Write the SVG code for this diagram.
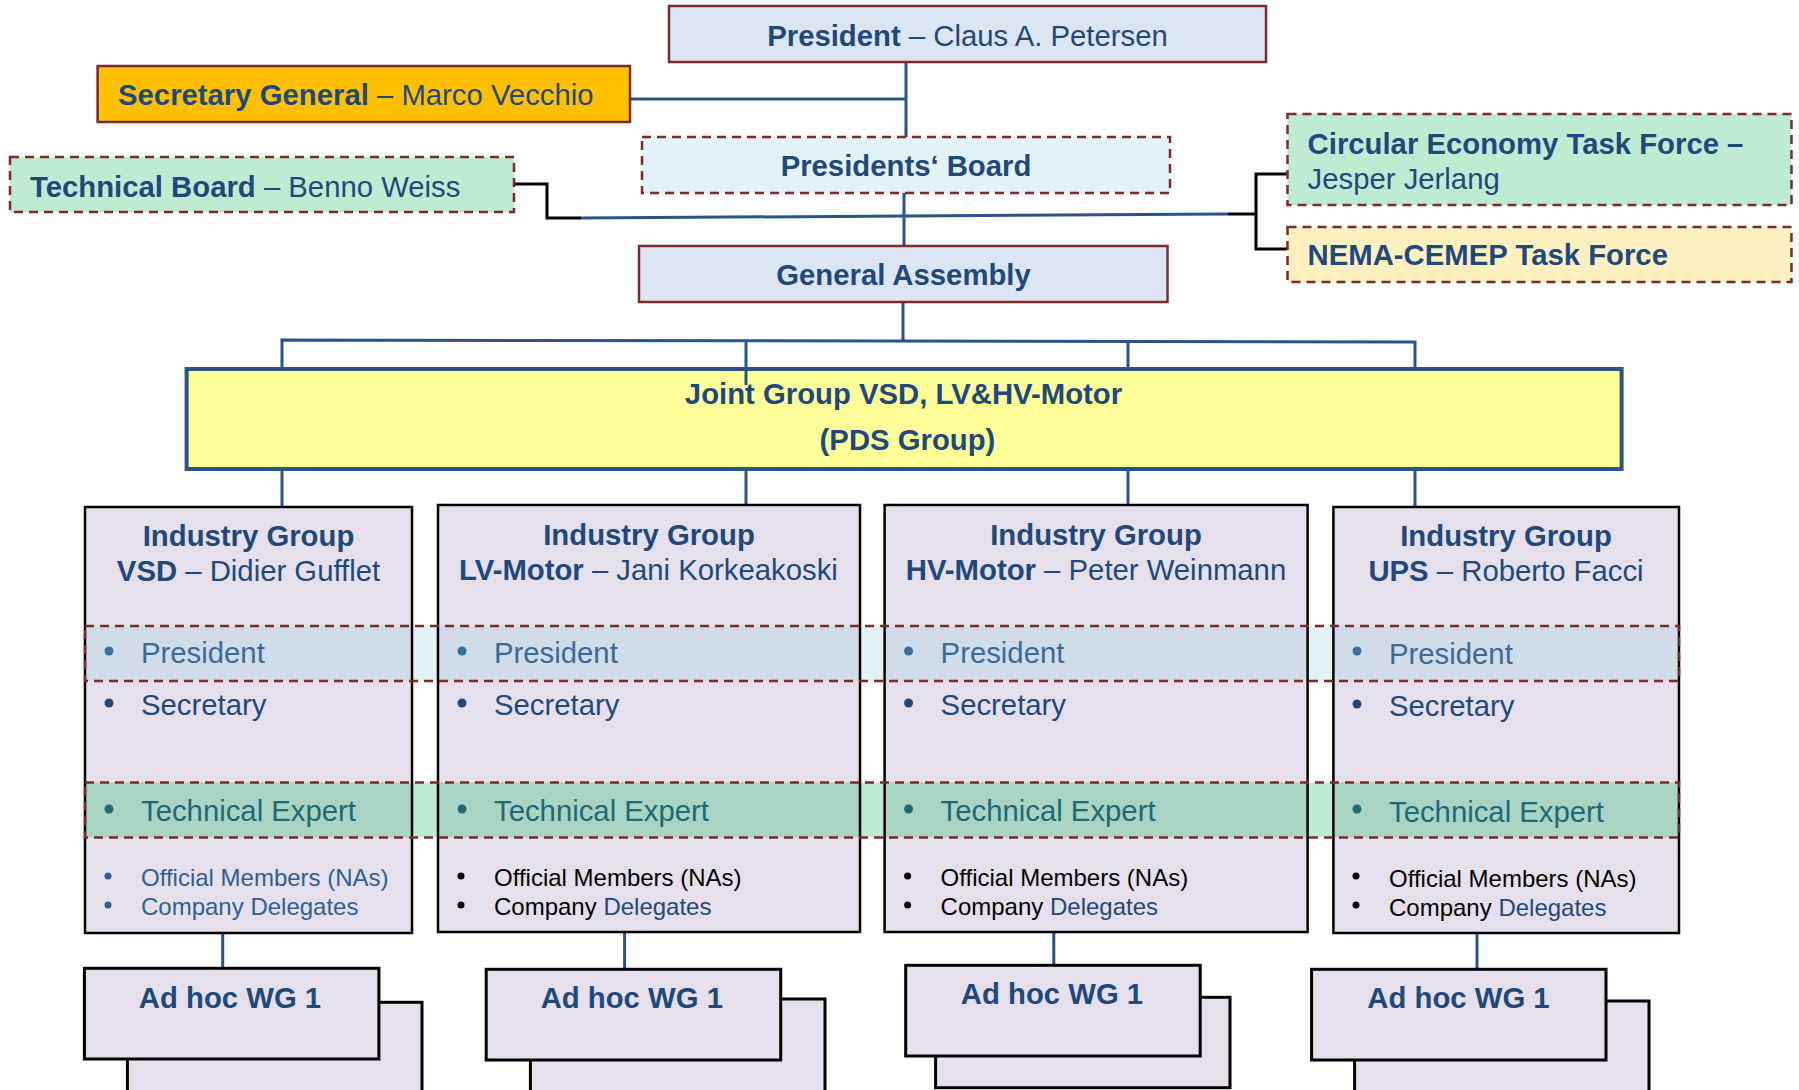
<svg xmlns="http://www.w3.org/2000/svg" width="1799" height="1090" viewBox="0 0 1799 1090">
<style>
text{font-family:"Liberation Sans",Arial,sans-serif;font-size:29.3px;fill:#1F497D;transform:translate(0px,1.5px)}
.b{font-weight:bold}
.c{text-anchor:middle}
.solid{stroke:#7B2B2B;stroke-width:2.5}
.dash{stroke:#7B2B2B;stroke-width:2.5;stroke-dasharray:9 6}
.ig{fill:#E5E0EC}
.igs{fill:none;stroke:#000;stroke-width:2.5}
.wg{fill:#E5E0EC;stroke:#000;stroke-width:3}
.cb{fill:none;stroke:#2C5288;stroke-width:3}
.ck{fill:none;stroke:#000;stroke-width:3}
.pr{fill:#3C6A98}
.te{fill:#1C6A73}
.sm{font-size:24px}
.k{fill:#000}
</style>
<rect width="1799" height="1090" fill="#fff"/>

<g id="connectors">
<path class="cb" d="M630,99 H906 M906,62 V137 M904,193 V246"/>
<path class="ck" d="M514,184 H547 V218 H581"/>
<path class="cb" d="M581,218 L1228,214"/>
<path class="ck" d="M1228,214 H1256 M1287,174 H1256 V249 H1287"/>
<path class="cb" d="M903,302 V340 M282,369 V340 L1415,342 V369 M746,340 V385 M1128,341 V369"/>
<path class="cb" d="M282,469 V508 M746,469 V505 M1128,469 V505 M1415,469 V508"/>
<path class="cb" d="M222.7,933 V968 M624.6,932 V969 M1053.8,932 V965 M1477,933 V969"/>
</g>

<g id="president">
<rect x="669" y="6" width="597" height="56" fill="#DCE6F2" class="solid"/>
<text x="967.5" y="44" class="c"><tspan class="b">President</tspan> – Claus A. Petersen</text>
</g>

<g id="secretary-general">
<rect x="97.6" y="66" width="532.4" height="56" fill="#FFC000" class="solid"/>
<text x="118" y="103"><tspan class="b">Secretary General</tspan> – Marco Vecchio</text>
</g>

<g id="technical-board">
<rect x="10" y="157" width="504" height="55" fill="#BFEBD3" class="dash"/>
<text x="30" y="195"><tspan class="b">Technical Board</tspan> – Benno Weiss</text>
</g>

<g id="presidents-board">
<rect x="642" y="137" width="528" height="56" fill="#E3F2F7" class="dash"/>
<text x="906" y="174" class="b c">Presidents‘ Board</text>
</g>

<g id="circular-economy">
<rect x="1287.5" y="114" width="504" height="91" fill="#BFEBD3" class="dash"/>
<text x="1307.6" y="152" class="b">Circular Economy Task Force –</text>
<text x="1307.6" y="187">Jesper Jerlang</text>
</g>

<g id="nema-cemep">
<rect x="1287.5" y="227" width="504" height="55" fill="#FFF0C1" class="dash"/>
<text x="1307.6" y="263" class="b">NEMA-CEMEP Task Force</text>
</g>

<g id="general-assembly">
<rect x="639" y="246" width="528.5" height="56" fill="#DCE6F2" class="solid"/>
<text x="903.5" y="283" class="b c">General Assembly</text>
</g>

<g id="joint-group">
<rect x="186.6" y="369" width="1435" height="100" fill="#FFFF99" stroke="#2C5288" stroke-width="4"/>
<path class="cb" d="M746,369 V385"/>
<text x="903.5" y="402" class="b c">Joint Group VSD, LV&amp;HV-Motor</text>
<text x="907.5" y="448" class="b c">(PDS Group)</text>
</g>

<g id="industry-fills">
<rect x="85" y="507" width="327" height="426" class="ig"/>
<rect x="438" y="505" width="422" height="427" class="ig"/>
<rect x="884.6" y="505" width="423" height="427" class="ig"/>
<rect x="1333.4" y="507" width="345.6" height="426" class="ig"/>
</g>

<g id="bands">
<rect x="85" y="626" width="1594" height="55" fill="#E2F2F7"/>
<rect x="85" y="626" width="327" height="55" fill="#D0DCE7"/>
<rect x="438" y="626" width="422" height="55" fill="#D0DCE7"/>
<rect x="884.6" y="626" width="423" height="55" fill="#D0DCE7"/>
<rect x="1333.4" y="626" width="345.6" height="55" fill="#D0DCE7"/>
<rect x="85" y="782.5" width="1594" height="55" fill="#BFEBD2"/>
<rect x="85" y="782.5" width="327" height="55" fill="#A9D3C3"/>
<rect x="438" y="782.5" width="422" height="55" fill="#A9D3C3"/>
<rect x="884.6" y="782.5" width="423" height="55" fill="#A9D3C3"/>
<rect x="1333.4" y="782.5" width="345.6" height="55" fill="#A9D3C3"/>
</g>

<g id="industry-borders">
<rect x="85" y="507" width="327" height="426" class="igs"/>
<rect x="438" y="505" width="422" height="427" class="igs"/>
<rect x="884.6" y="505" width="423" height="427" class="igs"/>
<rect x="1333.4" y="507" width="345.6" height="426" class="igs"/>
</g>

<g id="band-lines">
<rect x="85" y="626" width="1594" height="55" fill="none" class="dash"/>
<rect x="85" y="782.5" width="1594" height="55" fill="none" class="dash"/>
</g>

<g id="ig-vsd">
<text x="248.5" y="544" class="b c">Industry Group</text>
<text x="248.5" y="579" class="c"><tspan class="b">VSD</tspan> – Didier Gufflet</text>
<circle cx="109" cy="651" r="4.5" fill="#3A6E9F"/>
<text x="141" y="661" class="pr">President</text>
<circle cx="109" cy="703" r="4.5" fill="#1F497D"/>
<text x="141" y="713">Secretary</text>
<circle cx="109" cy="809" r="4.5" fill="#1C6A73"/>
<text x="141" y="819" class="te">Technical Expert</text>
<circle cx="108" cy="876" r="3.5" fill="#2F5F96"/>
<text x="141" y="884" class="sm" style="fill:#2F5F96">Official Members (NAs)</text>
<circle cx="108" cy="905" r="3.5" fill="#2F5F96"/>
<text x="141" y="913" class="sm" style="fill:#2F5F96">Company Delegates</text>
</g>

<g id="ig-lv">
<text x="649" y="543" class="b c">Industry Group</text>
<text x="648.4" y="578" class="c"><tspan class="b">LV-Motor</tspan> – Jani Korkeakoski</text>
<circle cx="462" cy="651" r="4.5" fill="#3A6E9F"/>
<text x="494" y="661" class="pr">President</text>
<circle cx="462" cy="703" r="4.5" fill="#1F497D"/>
<text x="494" y="713">Secretary</text>
<circle cx="462" cy="809" r="4.5" fill="#1C6A73"/>
<text x="494" y="819" class="te">Technical Expert</text>
<circle cx="461" cy="876" r="3.5" fill="#000"/>
<text x="494" y="884" class="sm k">Official Members (NAs)</text>
<circle cx="461" cy="905" r="3.5" fill="#000"/>
<text x="494" y="913" class="sm"><tspan class="k">Company</tspan> Delegates</text>
</g>

<g id="ig-hv">
<text x="1096" y="543" class="b c">Industry Group</text>
<text x="1096" y="578" class="c"><tspan class="b">HV-Motor</tspan> – Peter Weinmann</text>
<circle cx="908.6" cy="651" r="4.5" fill="#3A6E9F"/>
<text x="940.6" y="661" class="pr">President</text>
<circle cx="908.6" cy="703" r="4.5" fill="#1F497D"/>
<text x="940.6" y="713">Secretary</text>
<circle cx="908.6" cy="809" r="4.5" fill="#1C6A73"/>
<text x="940.6" y="819" class="te">Technical Expert</text>
<circle cx="907.6" cy="876" r="3.5" fill="#000"/>
<text x="940.6" y="884" class="sm k">Official Members (NAs)</text>
<circle cx="907.6" cy="905" r="3.5" fill="#000"/>
<text x="940.6" y="913" class="sm"><tspan class="k">Company</tspan> Delegates</text>
</g>

<g id="ig-ups">
<text x="1506" y="544" class="b c">Industry Group</text>
<text x="1506" y="579" class="c"><tspan class="b">UPS</tspan> – Roberto Facci</text>
<circle cx="1357" cy="651" r="4.5" fill="#3A6E9F"/>
<text x="1389" y="662" class="pr">President</text>
<circle cx="1357" cy="704" r="4.5" fill="#1F497D"/>
<text x="1389" y="714">Secretary</text>
<circle cx="1357" cy="809" r="4.5" fill="#1C6A73"/>
<text x="1389" y="820" class="te">Technical Expert</text>
<circle cx="1356" cy="876" r="3.5" fill="#000"/>
<text x="1389" y="885" class="sm k">Official Members (NAs)</text>
<circle cx="1356" cy="905" r="3.5" fill="#000"/>
<text x="1389" y="914" class="sm"><tspan class="k">Company</tspan> Delegates</text>
</g>

<g id="adhoc-vsd">
<rect x="127.4" y="1002.3" width="294.6" height="95" class="wg"/>
<rect x="84.4" y="968.3" width="294.5" height="90.7" class="wg"/>
<text x="230" y="1006" class="b c">Ad hoc WG 1</text>
</g>
<g id="adhoc-lv">
<rect x="530.4" y="999" width="294.6" height="98" class="wg"/>
<rect x="486.2" y="969.3" width="294.5" height="90.7" class="wg"/>
<text x="631.8" y="1006" class="b c">Ad hoc WG 1</text>
</g>
<g id="adhoc-hv">
<rect x="935.6" y="997.3" width="294.4" height="90.4" class="wg"/>
<rect x="905.7" y="965.3" width="294.5" height="90.7" class="wg"/>
<text x="1052" y="1002" class="b c">Ad hoc WG 1</text>
</g>
<g id="adhoc-ups">
<rect x="1354.6" y="1001" width="294.4" height="96" class="wg"/>
<rect x="1311.6" y="969.3" width="294.4" height="90.7" class="wg"/>
<text x="1458.5" y="1006" class="b c">Ad hoc WG 1</text>
</g>
</svg>
